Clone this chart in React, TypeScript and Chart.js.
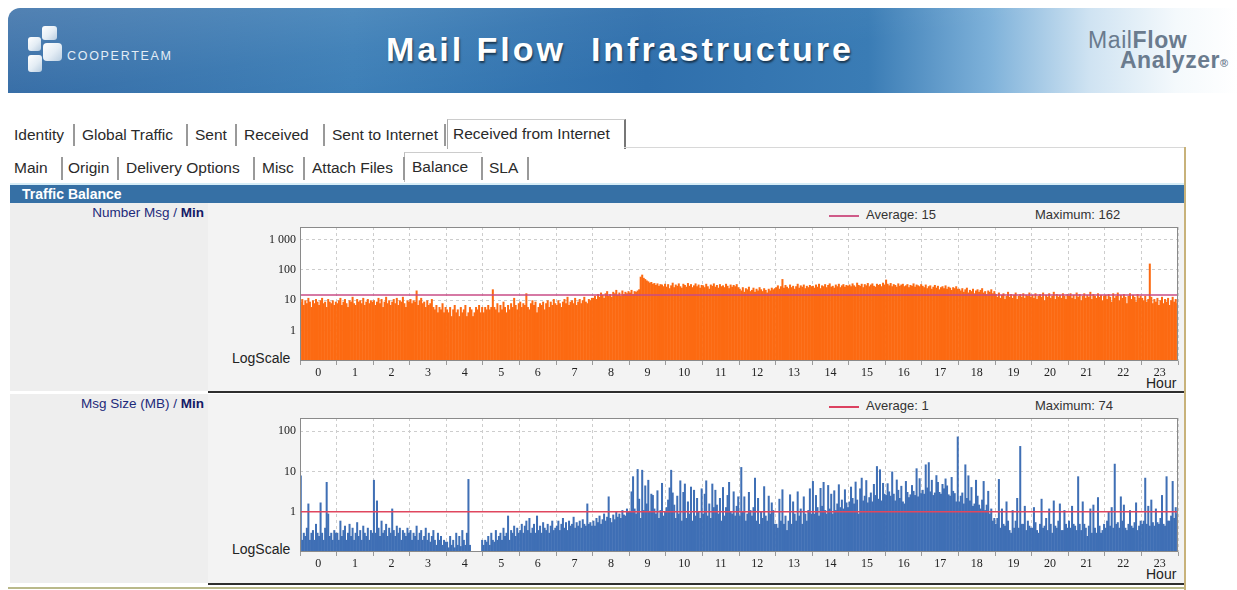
import React, { useEffect, useRef } from "react";
import { Chart, registerables } from "chart.js";

Chart.register(...registerables);

// ---------- DATA ----------
const hourLabels: string[] = [
  "0", "1", "2", "3", "4", "5", "6", "7", "8", "9", "10", "11",
  "12", "13", "14", "15", "16", "17", "18", "19", "20", "21", "22", "23",
];

// Number of messages per minute, read in 2.5-minute bins (24 per hour, one row per hour)
const msgCount: number[] = [
  9, 11, 7, 10, 8, 12, 9, 6, 10, 8, 11, 9, 7, 10, 12, 8, 9, 6, 11, 9, 8, 10, 7, 9,
  8, 10, 12, 7, 9, 11, 8, 6, 10, 9, 13, 8, 7, 11, 9, 10, 8, 12, 7, 9, 11, 8, 10, 9,
  10, 7, 9, 12, 8, 11, 6, 9, 13, 8, 10, 7, 9, 11, 8, 12, 7, 10, 9, 13, 8, 6, 10, 9,
  11, 8, 10, 9, 21, 7, 10, 12, 8, 9, 6, 10, 7, 8, 11, 6, 5, 7, 4, 6, 5, 8, 4, 6,
  5, 4, 6, 3, 5, 7, 4, 5, 3, 6, 4, 5, 7, 3, 4, 6, 5, 3, 4, 6, 5, 7, 4, 6,
  4, 6, 5, 7, 5, 6, 23, 6, 5, 8, 4, 7, 5, 9, 6, 4, 7, 5, 8, 6, 12, 7, 5, 8,
  9, 6, 8, 7, 17, 6, 5, 8, 10, 7, 9, 4, 6, 8, 7, 9, 5, 8, 10, 6, 9, 7, 11, 8,
  7, 10, 8, 6, 9, 11, 8, 13, 7, 9, 10, 8, 12, 7, 9, 11, 8, 10, 13, 9, 8, 11, 10, 12,
  12, 14, 11, 16, 13, 18, 15, 12, 17, 20, 14, 16, 13, 19, 17, 22, 15, 18, 14, 21, 16, 19, 17, 20,
  18, 22, 16, 20, 19, 21, 23, 60, 70, 55, 50, 45, 42, 38, 40, 35, 37, 32, 36, 30, 34, 33, 29, 35,
  28, 34, 25, 31, 38, 27, 33, 30, 36, 29, 26, 35, 32, 28, 37, 30, 34, 27, 31, 36, 29, 33, 26, 32,
  31, 27, 35, 29, 24, 33, 30, 36, 28, 32, 26, 34, 29, 31, 27, 35, 30, 25, 33, 28, 32, 29, 34, 27,
  24, 21, 27, 19, 25, 23, 28, 20, 22, 26, 19, 24, 21, 27, 23, 20, 25, 22, 18, 24, 21, 26, 23, 25,
  27, 31, 24, 29, 50, 26, 32, 28, 25, 33, 27, 30, 24, 29, 35, 26, 31, 28, 33, 25, 30, 27, 32, 29,
  30, 26, 33, 28, 35, 25, 31, 29, 34, 27, 32, 36, 28, 30, 26, 33, 29, 35, 27, 31, 34, 28, 32, 30,
  33, 29, 36, 31, 28, 38, 32, 30, 35, 27, 34, 31, 37, 29, 33, 36, 30, 28, 35, 32, 34, 29, 38, 33,
  48, 35, 31, 37, 29, 34, 32, 28, 36, 30, 33, 35, 29, 31, 34, 27, 32, 30, 36, 28, 33, 31, 29, 34,
  30, 27, 33, 25, 29, 31, 24, 28, 32, 26, 30, 23, 27, 29, 25, 31, 24, 28, 26, 22, 27, 25, 29, 24,
  24, 21, 25, 19, 23, 26, 18, 22, 20, 24, 17, 21, 23, 19, 22, 25, 18, 20, 16, 21, 19, 23, 17, 20,
  16, 13, 18, 12, 15, 17, 11, 14, 19, 13, 16, 12, 15, 18, 11, 14, 16, 13, 17, 12, 15, 14, 18, 13,
  15, 12, 17, 11, 14, 16, 13, 18, 10, 15, 13, 17, 12, 14, 19, 11, 16, 13, 15, 12, 17, 14, 11, 16,
  14, 17, 12, 15, 11, 18, 13, 16, 10, 14, 17, 12, 15, 13, 19, 11, 16, 14, 12, 17, 13, 15, 10, 14,
  15, 11, 16, 13, 9, 17, 12, 14, 18, 10, 15, 12, 16, 13, 8, 14, 17, 11, 15, 13, 9, 16, 12, 14,
  12, 10, 14, 9, 11, 162, 13, 8, 11, 9, 12, 7, 10, 13, 8, 11, 9, 12, 7, 10, 13, 9, 11, 8,
];

// Message size (MB) per minute, read in 2.5-minute bins (null = no traffic)
const msgSize: (number | null)[] = [
  8, 0.2, 0.3, 0.25, 0.4, 1.6, 0.2, 0.3, 0.35, 0.2, 0.5, 0.3, 0.25, 1.7, 0.3, 0.2, 0.4, 5.5, 0.9, 0.25, 0.3, 0.2, 0.35, 0.3,
  0.3, 0.2, 0.6, 0.25, 0.35, 0.45, 0.2, 0.3, 0.5, 0.25, 0.4, 0.2, 0.3, 0.55, 0.25, 0.35, 0.2, 0.45, 0.3, 0.25, 0.4, 0.2, 0.35, 0.3,
  6.2, 0.3, 1.9, 0.4, 0.25, 0.6, 0.3, 0.35, 0.5, 0.25, 0.4, 0.3, 1.2, 0.35, 0.25, 0.45, 0.3, 0.4, 0.2, 0.35, 0.3, 0.25, 0.4, 0.3,
  0.35, 0.2, 0.3, 0.25, 0.45, 0.2, 0.3, 0.35, 0.2, 0.25, 0.4, 0.2, 0.3, 0.18, 0.25, 0.35, 0.2, 0.15, 0.3, 0.2, 0.25, 0.15, 0.2, 0.18,
  0.18, 0.13, 0.25, 0.15, 0.2, 0.13, 0.3, 0.15, 0.25, 0.14, 0.35, 0.2, 0.15, 0.3, 6.5, 0.15, null, null, null, null, null, null, null, 0.2,
  0.15, 0.2, 0.18, 0.25, 0.15, 0.3, 0.2, 0.18, 0.35, 0.2, 0.25, 0.3, 0.2, 0.4, 0.25, 0.3, 0.8, 0.2, 0.35, 0.3, 0.45, 0.25, 0.4, 0.3,
  0.35, 0.5, 0.3, 0.45, 0.6, 0.35, 0.7, 0.3, 0.4, 0.5, 0.3, 0.8, 0.35, 0.45, 0.3, 0.55, 0.4, 0.35, 0.5, 0.3, 0.45, 0.6, 0.35, 0.4,
  0.45, 0.6, 0.35, 0.5, 0.7, 0.4, 0.55, 0.35, 0.6, 0.45, 0.5, 0.75, 0.4, 0.55, 0.45, 0.6, 0.4, 0.65, 0.5, 0.45, 1.6, 0.5, 0.55, 0.45,
  0.6, 0.45, 0.7, 0.55, 0.8, 0.5, 0.65, 0.9, 0.6, 0.75, 2.4, 0.7, 0.55, 0.85, 0.65, 1.0, 0.75, 0.9, 0.7, 1.1, 0.85, 0.8, 1.2, 1.0,
  1.0, 3.2, 7.6, 1.2, 0.9, 11.5, 2.1, 0.7, 11, 1.1, 4.5, 1.6, 6.2, 1.0, 2.8, 2.6, 1.2, 0.9, 3.4, 0.7, 1.1, 5.2, 0.8, 1.0,
  1.3, 2, 4, 11, 3, 1.5, 0.7, 2.5, 0.9, 6, 0.6, 3.1, 5, 0.7, 1.8, 0.9, 4.2, 0.6, 3.5, 0.8, 2.2, 1.0, 0.7, 3.8,
  0.9, 2.8, 6, 0.8, 1.6, 0.7, 5, 1.3, 3.5, 1.5, 0.9, 2.2, 0.6, 4.1, 0.8, 1.3, 2.6, 5.5, 1.0, 0.9, 3.2, 0.8, 1.4, 2.4,
  0.8, 12.9, 1.0, 2.4, 0.6, 0.9, 3.1, 1.1, 0.8, 1.3, 7, 0.6, 2.2, 0.5, 1.0, 0.7, 4.3, 0.8, 0.6, 2.5, 0.9, 1.7, 1.1, 0.5,
  0.5, 0.4, 2.1, 0.6, 3.6, 0.5, 0.8, 0.35, 0.6, 2.7, 0.5, 1.8, 0.9, 0.6, 3.2, 0.8, 1.2, 0.5, 2.4, 0.9, 0.6, 1.1, 3.8, 0.9,
  5.8, 0.9, 2.6, 1.3, 0.8, 3.9, 1.4, 5.5, 1.1, 0.9, 4.6, 1.2, 2.8, 0.9, 3.4, 1.1, 1.6, 4.8, 1.3, 2, 1.2, 3.6, 1.7, 1.3,
  1.8, 4.2, 2.2, 1.6, 5.6, 2.0, 0.9, 3.8, 7, 1.9, 2.5, 6.1, 1.7, 2.3, 3, 1.8, 4.9, 2.6, 13.6, 2.1, 11.3, 1.9, 5.2, 2.8,
  2.6, 5.1, 3.2, 2.5, 10, 2.8, 1.9, 6.3, 3.5, 2.2, 4.4, 1.8, 1.6, 5.8, 3.1, 2.3, 2.7, 4.6, 3.3, 2.6, 12, 2.4, 6.8, 2.9,
  3.5, 2.8, 15, 4, 17, 3.2, 6.2, 2.6, 3, 8.1, 5.5, 3.1, 2.8, 4.9, 3.8, 6.7, 4.5, 2.7, 2.5, 7.3, 3.3, 2.9, 1.8, 74,
  1.8, 2.5, 3, 1.6, 15, 2.2, 8, 1.9, 4.1, 1.4, 1.6, 6.2, 2.5, 1.5, 1.2, 2, 5.8, 1.1, 1.5, 3.3, 0.9, 1.2, 0.6, 0.7,
  0.5, 0.7, 6.5, 0.4, 1.2, 0.5, 0.45, 1.8, 0.6, 0.35, 0.3, 1.1, 0.4, 0.6, 2.2, 0.4, 43, 0.5, 0.5, 1.4, 0.35, 0.6, 0.45, 0.4,
  0.4, 1.3, 0.55, 0.35, 0.3, 0.5, 2.1, 0.4, 0.45, 0.7, 0.35, 1.2, 0.5, 0.3, 1.9, 0.45, 0.4, 0.6, 1.6, 0.35, 0.35, 1.1, 0.5, 0.4,
  0.6, 0.4, 1.4, 0.5, 0.45, 0.35, 7.6, 0.5, 0.35, 1.8, 0.5, 0.4, 0.25, 0.45, 1.2, 0.3, 1.5, 0.4, 0.3, 2.3, 0.45, 0.3, 0.35, 0.5,
  0.4, 0.6, 1, 0.45, 1.3, 0.4, 15.6, 0.5, 0.55, 0.4, 2.4, 0.6, 1.5, 0.4, 0.35, 0.5, 1.1, 0.45, 0.4, 0.55, 1.7, 0.35, 0.45, 0.6,
  0.5, 0.6, 7, 0.5, 1.4, 0.45, 2, 0.55, 0.45, 1.2, 0.55, 0.5, 0.7, 2.6, 0.5, 0.45, 7.6, 0.6, 0.6, 0.8, 5.8, 0.7, 1.3, 0.9,
];

const countAverage = 15;
const countMaximum = 162;
const sizeAverage = 1;
const sizeMaximum = 74;

const countTickValues = [1, 10, 100, 1000];
const countTickLabels = ["1", "10", "100", "1 000"];
const sizeTickValues = [1, 10, 100];
const sizeTickLabels = ["1", "10", "100"];

const binsPerHour = msgCount.length / hourLabels.length;
const binLabels: string[] = msgCount.map((_, i) => {
  const h = Math.floor(i / binsPerHour);
  const m = Math.floor(((i % binsPerHour) * 60) / binsPerHour);
  return `${String(h).padStart(2, "0")}:${String(m).padStart(2, "0")}`;
});

const row1Tabs = [
  { t: "Identity", x: 14 },
  { t: "Global Traffic", x: 82 },
  { t: "Sent", x: 195 },
  { t: "Received", x: 244 },
  { t: "Sent to Internet", x: 332 },
];
const row1Seps = [73, 186, 235, 323, 444];
const row2Tabs = [
  { t: "Main", x: 14 },
  { t: "Origin", x: 68 },
  { t: "Delivery Options", x: 126 },
  { t: "Misc", x: 262 },
  { t: "Attach Files", x: 312 },
  { t: "SLA", x: 489 },
];
const row2Seps = [61, 117, 253, 303, 403, 481, 527];

const SANS = "'Liberation Sans', Arial, sans-serif";
const SERIF = "'Liberation Serif', 'Times New Roman', serif";

// ---------- CHART ----------
const PLOT_WIDTH = 878;

const framePlugin = {
  id: "frame",
  beforeDraw(chart: any) {
    const { ctx, chartArea } = chart;
    ctx.save();
    ctx.fillStyle = "#ffffff";
    ctx.fillRect(chartArea.left, chartArea.top, chartArea.right - chartArea.left, chartArea.bottom - chartArea.top);
    ctx.restore();
  },
  afterDraw(chart: any) {
    const { ctx, chartArea } = chart;
    ctx.save();
    ctx.strokeStyle = "#8a8a8a";
    ctx.lineWidth = 1;
    ctx.strokeRect(
      Math.round(chartArea.left) + 0.5,
      Math.round(chartArea.top) + 0.5,
      Math.round(chartArea.right - chartArea.left) - 1,
      Math.round(chartArea.bottom - chartArea.top) - 1
    );
    ctx.restore();
  },
};

type ChartProps = {
  top: number;
  padTop: number;
  axisHeight: number;
  values: (number | null)[];
  barColor: string;
  avg: number;
  avgColor: string;
  yMax: number;
  tickValues: number[];
  tickLabels: string[];
  seriesName: string;
};

function LogBarChart(p: ChartProps) {
  const ref = useRef<HTMLCanvasElement>(null);
  useEffect(() => {
    const gridColor = "#cdcdcd";
    const barW = PLOT_WIDTH / p.values.length + 0.5;
    const chart = new Chart(ref.current as HTMLCanvasElement, {
      type: "bar",
      data: {
        labels: binLabels,
        datasets: [
          {
            type: "line",
            label: "Average",
            data: [
              { x: 0, y: p.avg },
              { x: 24, y: p.avg },
            ],
            xAxisID: "x2",
            yAxisID: "y",
            borderColor: p.avgColor,
            borderWidth: 1.5,
            pointRadius: 0,
            order: 0,
          } as any,
          {
            type: "bar",
            label: p.seriesName,
            data: p.values,
            xAxisID: "x",
            yAxisID: "y",
            backgroundColor: p.barColor,
            borderWidth: 0,
            grouped: false,
            barThickness: barW,
            inflateAmount: 0,
            order: 1,
          } as any,
        ],
      },
      options: {
        animation: false,
        responsive: false,
        events: [],
        layout: { padding: { top: p.padTop, right: 6, left: 0, bottom: 0 } },
        plugins: { legend: { display: false }, tooltip: { enabled: false } },
        scales: {
          x: { type: "category", display: false, offset: true },
          x2: {
            type: "linear",
            position: "bottom",
            min: 0,
            max: 24,
            bounds: "data",
            offset: false,
            afterBuildTicks: (s: any) => {
              const t: any[] = [];
              hourLabels.forEach((_, i) => {
                t.push({ value: i });
                t.push({ value: i + 0.5 });
              });
              t.push({ value: 24 });
              s.ticks = t;
            },
            afterFit: (s: any) => {
              s.height = p.axisHeight;
            },
            ticks: {
              autoSkip: false,
              maxRotation: 0,
              padding: 1,
              color: "#222",
              font: { family: SERIF, size: 12 },
              callback: (_v: any, i: number, ticks: any[]) => {
                const v = ticks[i].value;
                return v % 1 !== 0 ? hourLabels[Math.floor(v)] : "";
              },
            },
            grid: {
              offset: false,
              color: (c: any) => (c.tick && c.tick.value % 1 === 0 ? gridColor : "rgba(0,0,0,0)"),
              tickColor: (c: any) => (c.tick && c.tick.value % 1 === 0 ? "#9a9a9a" : "rgba(0,0,0,0)"),
              tickLength: 4,
              tickBorderDash: [],
            },
            border: { display: false, dash: [3, 3] },
          } as any,
          y: {
            type: "logarithmic",
            min: 0.1,
            max: p.yMax,
            bounds: "data",
            afterBuildTicks: (s: any) => {
              s.ticks = p.tickValues.map((v) => ({ value: v }));
            },
            afterFit: (s: any) => {
              s.width = 90;
            },
            ticks: {
              padding: 4,
              color: "#222",
              font: { family: SERIF, size: 12 },
              callback: (_v: any, i: number) => p.tickLabels[i],
            },
            grid: { color: gridColor, drawTicks: false },
            border: { display: false, dash: [3, 3] },
          } as any,
        },
      } as any,
      plugins: [framePlugin],
    });
    return () => chart.destroy();
  }, []);
  return (
    <canvas
      ref={ref}
      width={974}
      height={190}
      style={{ position: "absolute", left: 210, top: p.top, width: 974, height: 190 }}
    />
  );
}

// ---------- PAGE ----------
const abs = (s: React.CSSProperties): React.CSSProperties => ({ position: "absolute", ...s });

function Panel(props: {
  top: number;
  label: string;
  avgText: string;
  maxText: string;
  avgColor: string;
  plotBottom: number;
  height: number;
}) {
  const { top } = props;
  return (
    <>
      <div style={abs({ left: 10, top, width: 198, height: props.height, background: "#eeeeee" })} />
      <div style={abs({ left: 208, top, width: 976, height: props.height, background: "#f3f3f3" })} />
      <div
        style={abs({
          left: 10,
          top: top + 2,
          width: 194,
          textAlign: "right",
          fontFamily: SANS,
          fontSize: 13.5,
          color: "#1d2a7a",
          whiteSpace: "pre",
          lineHeight: "16px",
        })}
      >
        {props.label} / <b style={{ color: "#141a66" }}>Min</b>
      </div>
      <div style={abs({ left: 829, top: top + 12, width: 30, height: 2, background: props.avgColor })} />
      <div style={abs({ left: 866, top: top + 4, fontFamily: SANS, fontSize: 13, color: "#333", lineHeight: "16px" })}>
        {props.avgText}
      </div>
      <div style={abs({ left: 1035, top: top + 4, fontFamily: SANS, fontSize: 13, color: "#333", lineHeight: "16px" })}>
        {props.maxText}
      </div>
      <div style={abs({ left: 232, top: props.plotBottom - 11, fontFamily: SANS, fontSize: 14, color: "#222", lineHeight: "16px" })}>
        LogScale
      </div>
      <div style={abs({ left: 1146, top: props.plotBottom + 14, fontFamily: SANS, fontSize: 14, color: "#222", lineHeight: "16px" })}>
        Hour
      </div>
    </>
  );
}

const squareBg = "linear-gradient(135deg,#ffffff 0%,#e4edf5 55%,#b9cde0 100%)";

export default function App() {
  return (
    <div style={abs({ left: 0, top: 0, width: 1237, height: 590, background: "#ffffff", overflow: "hidden" })}>
      {/* Header banner */}
      <div
        style={abs({
          left: 8,
          top: 8,
          width: 1229,
          height: 85,
          borderTopLeftRadius: 12,
          background:
            "linear-gradient(172deg, rgba(255,255,255,0.18) 0%, rgba(255,255,255,0.05) 35%, rgba(255,255,255,0) 60%), linear-gradient(90deg, #2c66a2 0%, #3a7db6 28%, #2f6fac 52%, #3a7cb5 70%, #7fb2da 80%, #cfe3f2 88%, #f4f9fc 95%, #ffffff 100%)",
        })}
      />
      {/* Cooperteam logo */}
      <div style={abs({ left: 42, top: 26, width: 15, height: 14, borderRadius: 3, background: squareBg })} />
      <div style={abs({ left: 28, top: 37, width: 13, height: 14, borderRadius: 3, background: squareBg })} />
      <div style={abs({ left: 43, top: 43, width: 19, height: 18, borderRadius: 4, background: squareBg })} />
      <div style={abs({ left: 28, top: 55, width: 14, height: 17, borderRadius: 3, background: squareBg })} />
      <div style={abs({ left: 67, top: 49, fontFamily: SANS, fontSize: 12.5, color: "#e3edf6", letterSpacing: 1.7, lineHeight: "14px" })}>
        COOPERTEAM
      </div>
      {/* Title */}
      <div
        style={abs({
          left: 386,
          top: 29,
          fontFamily: SANS,
          fontWeight: "bold",
          fontSize: 34,
          letterSpacing: 3,
          color: "#ffffff",
          whiteSpace: "pre",
          lineHeight: "40px",
          textShadow: "1px 2px 2px rgba(0,0,0,0.55)",
        })}
      >
        Mail Flow  Infrastructure
      </div>
      {/* MailFlow Analyzer */}
      <div style={abs({ left: 1088, top: 28, fontFamily: SANS, fontSize: 23, letterSpacing: 0.6, color: "#6a7b8e", lineHeight: "24px" })}>
        Mail<b>Flow</b>
      </div>
      <div style={abs({ left: 1120, top: 48, fontFamily: SANS, fontSize: 23, fontWeight: "bold", letterSpacing: 0.5, color: "#6a7b8e", lineHeight: "24px" })}>
        Analyzer<span style={{ fontSize: 11, verticalAlign: "top", position: "relative", top: 3 }}>®</span>
      </div>

      {/* Row 1 tabs */}
      <div style={abs({ left: 447, top: 119, width: 176, height: 29, background: "#ffffff", borderLeft: "1px solid #aaa", borderTop: "1px solid #ccc", borderRight: "2px solid #777" })} />
      {row1Tabs.map((r) => (
        <div key={r.t} style={abs({ left: r.x, top: 125, fontFamily: SANS, fontSize: 15.5, color: "#2a2a2a", lineHeight: "20px", whiteSpace: "pre" })}>
          {r.t}
        </div>
      ))}
      <div style={abs({ left: 453, top: 124, fontFamily: SANS, fontSize: 15.5, color: "#2a2a2a", lineHeight: "20px" })}>
        Received from Internet
      </div>
      {row1Seps.map((x) => (
        <div key={x} style={abs({ left: x, top: 124, width: 2, height: 22, background: "#999" })} />
      ))}

      {/* Row 2 container */}
      <div style={abs({ left: 624, top: 147, width: 560, height: 0, borderTop: "1px solid #d8d8d8" })} />
      <div style={abs({ left: 404, top: 152, width: 77, height: 29, background: "#ffffff", borderLeft: "1px solid #bbb", borderTop: "1px solid #ccc" })} />
      {row2Tabs.map((r) => (
        <div key={r.t} style={abs({ left: r.x, top: 158, fontFamily: SANS, fontSize: 15.5, color: "#2a2a2a", lineHeight: "20px", whiteSpace: "pre" })}>
          {r.t}
        </div>
      ))}
      <div style={abs({ left: 412, top: 157, fontFamily: SANS, fontSize: 15.5, color: "#2a2a2a", lineHeight: "20px" })}>Balance</div>
      {row2Seps.map((x) => (
        <div key={x} style={abs({ left: x, top: 157, width: 2, height: 23, background: "#999" })} />
      ))}

      {/* Section header */}
      <div style={abs({ left: 10, top: 183, width: 1174, height: 2, background: "#d6edf7" })} />
      <div style={abs({ left: 10, top: 185, width: 1174, height: 18, background: "#3670a5" })} />
      <div style={abs({ left: 22, top: 186, fontFamily: SANS, fontWeight: "bold", fontSize: 14, color: "#ffffff", lineHeight: "16px" })}>
        Traffic Balance
      </div>

      {/* Panels */}
      <Panel top={203} height={188} label="Number Msg" avgText={`Average: ${countAverage}`} maxText={`Maximum: ${countMaximum}`} avgColor="#cf5a88" plotBottom={361} />
      <div style={abs({ left: 208, top: 391, width: 976, height: 2, background: "#2e2e2e" })} />
      <Panel top={394} height={189} label="Msg Size (MB)" avgText={`Average: ${sizeAverage}`} maxText={`Maximum: ${sizeMaximum}`} avgColor="#dc4160" plotBottom={552} />
      <div style={abs({ left: 208, top: 583, width: 976, height: 2, background: "#2e2e2e" })} />
      <div style={abs({ left: 8, top: 587, width: 1178, height: 2, background: "#b9b98a" })} />
      <div style={abs({ left: 1184, top: 147, width: 2, height: 443, background: "#c8b27a" })} />

      <LogBarChart
        top={204}
        padTop={23}
        axisHeight={33}
        values={msgCount}
        barColor="#fc6a12"
        avg={countAverage}
        avgColor="#c94d86"
        yMax={2600}
        tickValues={countTickValues}
        tickLabels={countTickLabels}
        seriesName="Number Msg / Min"
      />
      <LogBarChart
        top={394}
        padTop={24}
        axisHeight={32}
        values={msgSize}
        barColor="#3f6fb5"
        avg={sizeAverage}
        avgColor="#e0475e"
        yMax={214}
        tickValues={sizeTickValues}
        tickLabels={sizeTickLabels}
        seriesName="Msg Size (MB) / Min"
      />
    </div>
  );
}
